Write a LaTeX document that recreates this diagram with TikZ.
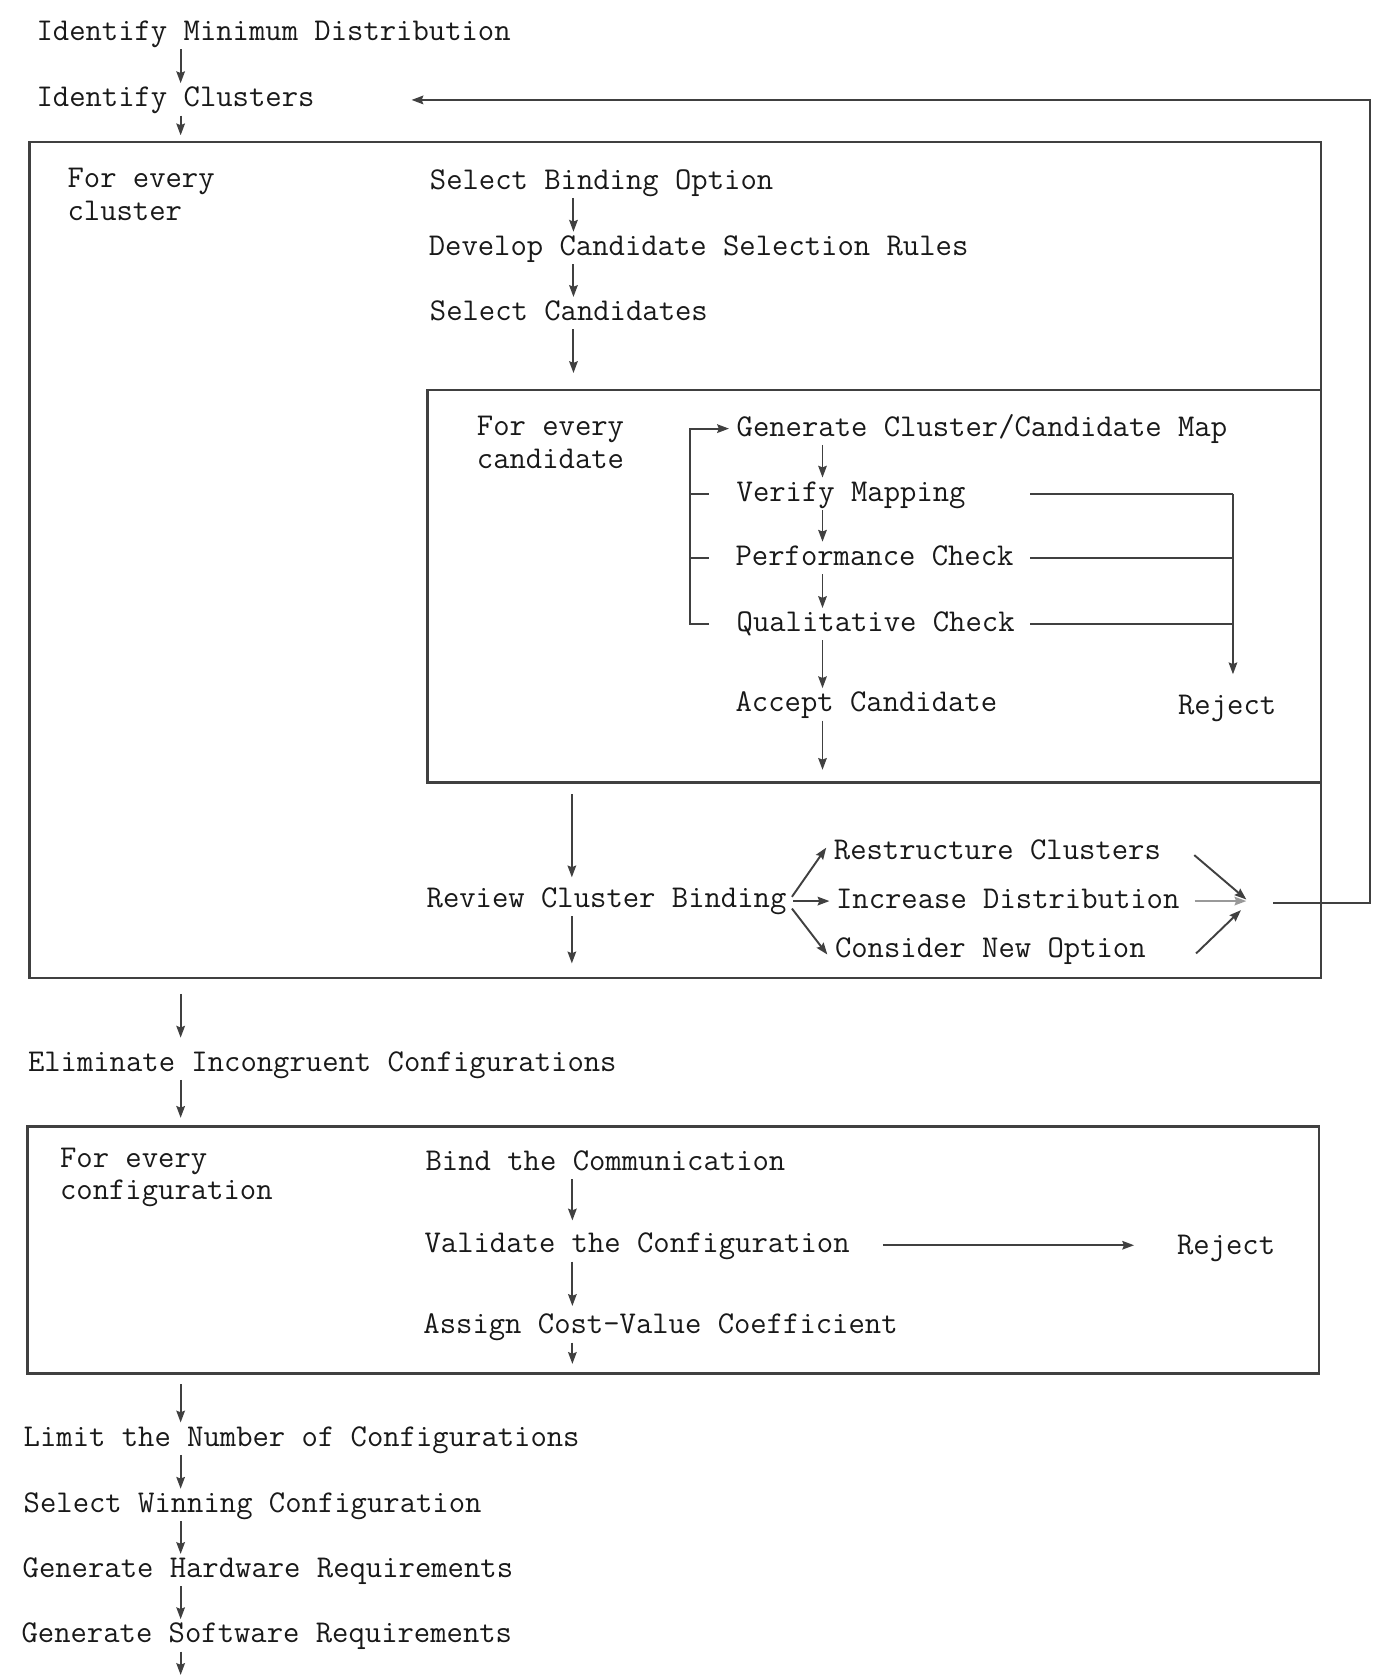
\documentclass[tikz,border=0pt]{standalone}
\usepackage{fontspec}
\usetikzlibrary{arrows.meta}
\begin{document}
\begin{tikzpicture}[x=1pt,y=-1pt,
  lbl/.style={anchor=base west, inner sep=2pt, text height=20pt, text depth=6pt,
              font=\ttfamily\fontsize{29.7pt}{34pt}\selectfont, text=black!90},
  arr/.style={-{Stealth[length=11pt,width=8pt,inset=1.5pt]}, line width=1.8pt, draw=black!75},
  ln/.style={line width=1.8pt, draw=black!75},
  frame/.style={draw=black!75, line width=2.2pt, inner sep=0pt, anchor=north west}]
\useasboundingbox (0,0) rectangle (1293,1568);

% ---------- boxes ----------
\node[frame, minimum width=1208pt, minimum height=782pt] (clbox) at (26.5,131.6) {};
\node[frame, minimum width=835.5pt, minimum height=367pt] (candbox) at (399,364) {};
\node[frame, minimum width=1208pt, minimum height=231pt] (cfgbox) at (24.6,1052.8) {};

% ---------- texts ----------
\node[lbl] (idmin) at (32,38) {Identify Minimum Distribution};
\node[lbl] (idcl)  at (32,100) {Identify Clusters};
\node[lbl] (fc1) at (61,175) {For every};
\node[lbl] (fc2) at (61,206) {cluster};
\node[lbl] (sbo) at (400,177) {Select Binding Option};
\node[lbl] (dcs) at (399,239) {Develop Candidate Selection Rules};
\node[lbl] (sc)  at (400,300) {Select Candidates};
\node[lbl] (fca1) at (444,407) {For every};
\node[lbl] (fca2) at (444,438) {candidate};
\node[lbl] (gen) at (687,408) {Generate Cluster/Candidate Map};
\node[lbl] (vm)  at (687,469) {Verify Mapping};
\node[lbl] (pc)  at (686,529) {Performance Check};
\node[lbl] (qc)  at (687,591) {Qualitative Check};
\node[lbl] (ac)  at (686,666) {Accept Candidate};
\node[lbl] (rj1) at (1100,668) {Reject};
\node[lbl] (rcb) at (397,849) {Review Cluster Binding};
\node[lbl] (rs)  at (778,804) {Restructure Clusters};
\node[lbl] (idist) at (780,850) {Increase Distribution};
\node[lbl] (cno) at (779,896) {Consider New Option};
\node[lbl] (eic) at (24,1002) {Eliminate Incongruent Configurations};
\node[lbl] (fcf1) at (54,1092) {For every};
\node[lbl] (fcf2) at (54,1122) {configuration};
\node[lbl] (btc) at (396,1095) {Bind the Communication};
\node[lbl] (vtc) at (395,1172) {Validate the Configuration};
\node[lbl] (rj2) at (1099,1174) {Reject};
\node[lbl] (acv) at (394,1248) {Assign Cost-Value Coefficient};
\node[lbl] (lnc) at (20,1353) {Limit the Number of Configurations};
\node[lbl] (swc) at (20,1415) {Select Winning Configuration};
\node[lbl] (ghr) at (19,1476) {Generate Hardware Requirements};
\node[lbl] (gsr) at (18,1537) {Generate Software Requirements};

% ---------- column coordinates ----------
\coordinate (xA) at (169,0);
\coordinate (xB) at (536.5,0);
\coordinate (xC) at (769.5,0);
\coordinate (xD) at (535,0);
\coordinate (xE) at (535.5,0);
\coordinate (lx) at (645.5,0);
\coordinate (tx) at (663.5,0);
\coordinate (rx) at (964,0);
\coordinate (ry) at (1153.5,0);
\coordinate (cv) at (1166,843);
\coordinate (fb0) at (1191,845);
\coordinate (fb1) at (1282,845);
\coordinate (fb2) at (1282,93.5);
\coordinate (fb3) at (385,93.5);
\coordinate (endc) at (170,1567);

% ---------- top ----------
\draw[arr] (idmin.south -| xA) -- (idcl.north -| xA);
\draw[arr, shorten >=5pt] (idcl.south -| xA) -- (clbox.north -| xA);

% ---------- cluster box ----------
\draw[arr] (sbo.south -| xB) -- (dcs.north -| xB);
\draw[arr] (dcs.south -| xB) -- (sc.north -| xB);
\draw[arr, shorten >=15pt] (sc.south -| xB) -- (candbox.north -| xB);

% ---------- candidate box ----------
\draw[arr] (gen.south -| xC) -- (vm.north -| xC);
\draw[arr] (vm.south -| xC) -- (pc.north -| xC);
\draw[arr] (pc.south -| xC) -- (qc.north -| xC);
\draw[arr] (qc.south -| xC) -- (ac.north -| xC);
\draw[arr, shorten >=13pt] (ac.south -| xC) -- (candbox.south -| xC);

\draw[arr] (qc.west -| tx) -- (qc.west -| lx) -- (gen.west -| lx) -- ([xshift=-5pt]gen.west);
\draw[ln] (vm.west -| lx) -- (vm.west -| tx);
\draw[ln] (pc.west -| lx) -- (pc.west -| tx);

\draw[ln] (vm.east -| rx) -- (vm.east -| ry);
\draw[ln] (pc.east -| rx) -- (pc.east -| ry);
\draw[ln] (qc.east -| rx) -- (qc.east -| ry);
\draw[arr, shorten >=15pt] (vm.east -| ry) -- (rj1.north -| ry);

% ---------- review ----------
\draw[arr, shorten <=10pt, shorten >=6pt] (candbox.south -| xD) -- (rcb.north -| xD);
\draw[arr, shorten >=14.5pt] (rcb.south -| xD) -- (clbox.south -| xD);

\draw[arr] ([xshift=3pt,yshift=3pt]rcb.east) -- ([xshift=-5pt,yshift=4pt]rs.west);
\draw[arr] ([xshift=4pt]rcb.east |- idist.west) -- ([xshift=-4pt]idist.west);
\draw[arr] ([xshift=3pt,yshift=-8pt]rcb.east) -- ([xshift=-5pt,yshift=-4pt]cno.west);

\draw[arr] ([xshift=29pt,yshift=-3pt]rs.east) -- ([yshift=1.5pt]cv);
\draw[arr, draw=black!40] ([xshift=12pt]idist.east) -- (cv);
\draw[arr] ([xshift=45pt,yshift=-3pt]cno.east) -- ([xshift=-5pt,yshift=-8.5pt]cv);

\draw[arr] (fb0) -- (fb1) -- (fb2) -- (fb3);

% ---------- between boxes ----------
\draw[arr, shorten <=14pt, shorten >=9pt] (clbox.south -| xA) -- (eic.north -| xA);
\draw[arr, shorten >=7pt] (eic.south -| xA) -- (cfgbox.north -| xA);

% ---------- configuration box ----------
\draw[arr, shorten >=8pt] (btc.south -| xE) -- (vtc.north -| xE);
\draw[arr, shorten >=4pt] (vtc.south -| xE) -- (acv.north -| xE);
\draw[arr, shorten >=10pt] (acv.south -| xE) -- (cfgbox.south -| xE);
\draw[arr] ([xshift=29pt]vtc.east) -- ([xshift=-38pt]rj2.west |- vtc.east);

% ---------- bottom ----------
\draw[arr, shorten <=9pt] (cfgbox.south -| xA) -- (lnc.north -| xA);
\draw[arr] (lnc.south -| xA) -- (swc.north -| xA);
\draw[arr] (swc.south -| xA) -- (ghr.north -| xA);
\draw[arr] (ghr.south -| xA) -- (gsr.north -| xA);
\draw[arr] (gsr.south -| xA) -- (endc -| xA);
\end{tikzpicture}
\end{document}
